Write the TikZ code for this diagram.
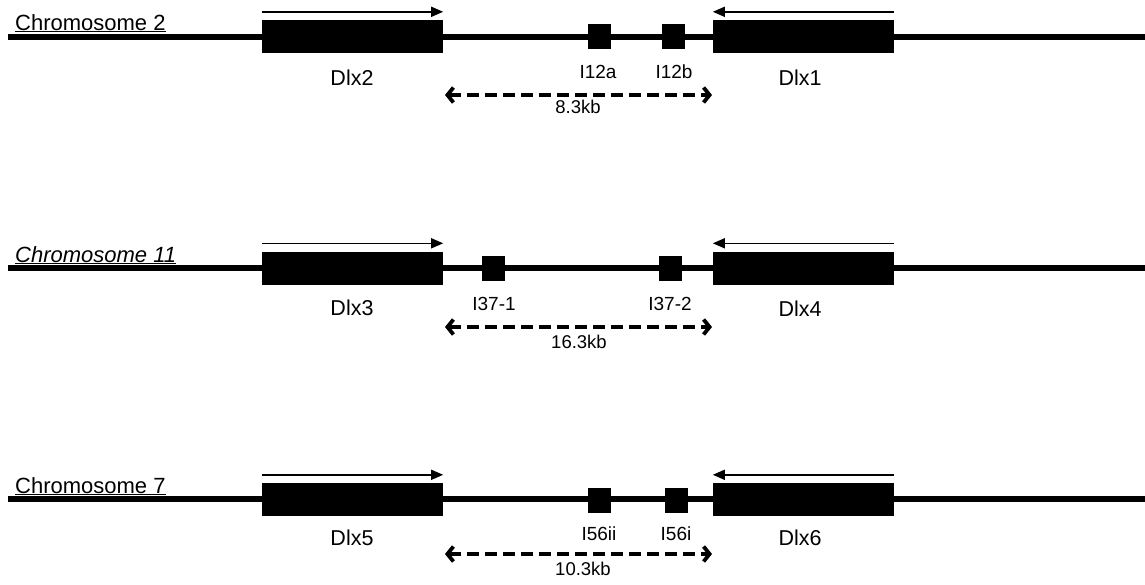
\documentclass[tikz,border=0pt]{standalone}
\usepackage{fontspec}
\setmainfont{Liberation Sans}
\usetikzlibrary{arrows.meta}
\tikzset{
  chromline/.style={line width=6.5pt},
  genebox/.style={fill=black, draw=none, minimum width=181pt, minimum height=33pt, inner sep=0pt},
  elem/.style={fill=black, draw=none, minimum width=23pt, minimum height=25pt, inner sep=0pt},
  genearrow/.style={line width=1.5pt, -{Triangle[length=12pt,width=10pt]}},
  kbarrow/.style={line width=3.5pt, dash pattern=on 12pt off 6pt,
     {Straight Barb[length=6pt,width=15pt,line width=3.8pt]}-{Straight Barb[length=6pt,width=15pt,line width=3.8pt]}},
  chromlabel/.style={anchor=base west, inner sep=0pt, font=\fontsize{22}{24}\selectfont},
  genelabel/.style={anchor=base, inner sep=0pt, font=\fontsize{21.5}{24}\selectfont},
  elemlabel/.style={anchor=base, inner sep=0pt, font=\fontsize{19}{21}\selectfont},
  kblabel/.style={anchor=base, inner sep=0pt, font=\fontsize{18.5}{20}\selectfont},
}
\begin{document}
\begin{tikzpicture}[x=1pt, y=-1pt]
\useasboundingbox (0,0) rectangle (1145,584);

% ---------- Row 1: Chromosome 2 ----------
\coordinate (r1s) at (8,37);
\coordinate (r1e) at (1145,37);
\draw[chromline] (r1s) -- (r1e);
\node[chromlabel] (c2) at (15,30) {\underline{Chromosome 2}};
\node[genebox] (dlx2) at (352.5,36.5) {};
\node[genebox] (dlx1) at (803.5,36.5) {};
\node[elem] (i12a) at (599.5,36.5) {};
\node[elem] (i12b) at (673.5,36.5) {};
\draw[genearrow] ([yshift=8pt]dlx2.north west) -- ([yshift=8pt]dlx2.north east);
\draw[genearrow] ([yshift=8pt]dlx1.north east) -- ([yshift=8pt]dlx1.north west);
\node[genelabel] (ldlx2) at (352,85) {Dlx2};
\node[genelabel] (ldlx1) at (800,85) {Dlx1};
\node[elemlabel] (li12a) at (598,78) {I12a};
\node[elemlabel] (li12b) at (674,78) {I12b};
\coordinate (k1l) at (445,95);
\coordinate (k1r) at (712,95);
\draw[kbarrow] (k1l) -- (k1r);
\node[kblabel] (kb1) at (578,113) {8.3kb};

% ---------- Row 2: Chromosome 11 ----------
\coordinate (r2s) at (8,268);
\coordinate (r2e) at (1145,268);
\draw[chromline] (r2s) -- (r2e);
\node[chromlabel] (c11) at (15,262) {\underline{\itshape Chromosome 11}};
\node[genebox] (dlx3) at (352.5,268) {};
\node[genebox] (dlx4) at (803.5,268) {};
\node[elem] (i371) at (493.5,268.5) {};
\node[elem] (i372) at (670.5,268.5) {};
\draw[genearrow] ([yshift=8pt]dlx3.north west) -- ([yshift=8pt]dlx3.north east);
\draw[genearrow] ([yshift=8pt]dlx4.north east) -- ([yshift=8pt]dlx4.north west);
\node[genelabel] (ldlx3) at (352,315) {Dlx3};
\node[genelabel] (ldlx4) at (800,316) {Dlx4};
\node[elemlabel] (li371) at (494,310) {I37-1};
\node[elemlabel] (li372) at (670,310) {I37-2};
\coordinate (k2l) at (445,327);
\coordinate (k2r) at (712,327);
\draw[kbarrow] (k2l) -- (k2r);
\node[kblabel] (kb2) at (579,348) {16.3kb};

% ---------- Row 3: Chromosome 7 ----------
\coordinate (r3s) at (8,499);
\coordinate (r3e) at (1145,499);
\draw[chromline] (r3s) -- (r3e);
\node[chromlabel] (c7) at (15,493) {\underline{Chromosome 7}};
\node[genebox] (dlx5) at (352.5,499.5) {};
\node[genebox] (dlx6) at (803.5,499.5) {};
\node[elem] (i56ii) at (599.5,500) {};
\node[elem] (i56i) at (676.5,500) {};
\draw[genearrow] ([yshift=8pt]dlx5.north west) -- ([yshift=8pt]dlx5.north east);
\draw[genearrow] ([yshift=8pt]dlx6.north east) -- ([yshift=8pt]dlx6.north west);
\node[genelabel] (ldlx5) at (352,545) {Dlx5};
\node[genelabel] (ldlx6) at (800,545) {Dlx6};
\node[elemlabel] (li56ii) at (599,540) {I56ii};
\node[elemlabel] (li56i) at (676,540) {I56i};
\coordinate (k3l) at (445,554);
\coordinate (k3r) at (712,554);
\draw[kbarrow] (k3l) -- (k3r);
\node[kblabel] (kb3) at (583,575) {10.3kb};
\end{tikzpicture}
\end{document}
